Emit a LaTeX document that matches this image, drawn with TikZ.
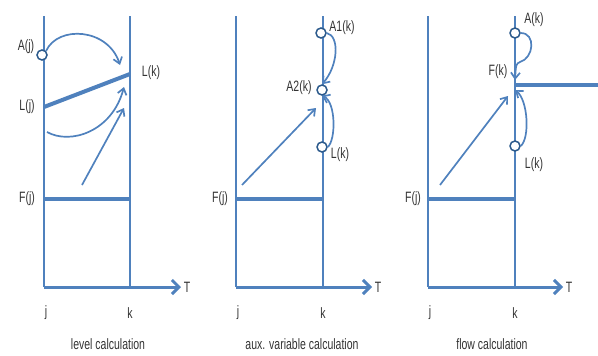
\documentclass[tikz,border=0pt]{standalone}
\usepackage{fontspec}
\setmainfont[FakeStretch=0.7]{Liberation Sans}
\usetikzlibrary{arrows.meta}
\definecolor{lblue}{HTML}{4F81BD}
\definecolor{dblue}{HTML}{2C5A8C}
\definecolor{txt}{HTML}{333333}
\tikzset{
  thinline/.style={draw=lblue, line width=2.6pt},
  thickline/.style={draw=lblue, line width=4pt},
  causal/.style={draw=lblue, line width=1.7pt, -{Straight Barb[length=6pt,width=9pt,line width=1.7pt]}},
  taxis/.style={draw=lblue, line width=3pt, -{Straight Barb[length=7pt,width=14pt,line width=3pt]}},
  var/.style={circle, draw=dblue, fill=white, line width=1.5pt, minimum size=10pt, inner sep=0pt},
  lab/.style={font=\fontsize{15}{15}\selectfont, text=txt, inner sep=0pt},
  captext/.style={font=\fontsize{15}{15}\selectfont, text=txt, inner sep=0pt},
}
\begin{document}
\begin{tikzpicture}[x=1pt,y=-1pt]
\useasboundingbox (0,0) rectangle (598,356);
% ---------- panel 1: level calculation
\coordinate (p1jt) at (44,16); \coordinate (p1jb) at (44,287);
\coordinate (p1kt) at (130,16); \coordinate (p1kb) at (130,287);
\coordinate (p1te) at (181,287);
\draw[thinline] (p1jt) -- (p1jb);
\draw[thinline] (p1kt) -- (p1kb);
\draw[taxis] (p1jb) -- (p1te);
\node[lab] (p1T) at (187,287) {T};
\node[lab] (p1j) at (46,313) {j};
\node[lab] (p1k) at (130,313) {k};
\node[captext] (p1cap) at (108,344) {level calculation};
\coordinate (p1Lj) at (44,107); \coordinate (p1Lk) at (130,74);
\draw[thickline] (p1Lj) -- (p1Lk);
\node[lab] (p1Ljl) at (27,107) {L(j)};
\node[lab] (p1Lkl) at (151,73) {L(k)};
\node[var] (p1Aj) at (42,55) {};
\node[lab] (p1Ajl) at (26,47) {A(j)};
\coordinate (p1Fj) at (44,199); \coordinate (p1Fk) at (130,199);
\draw[thickline] (p1Fj) -- (p1Fk);
\node[lab] (p1Fjl) at (27,199) {F(j)};
\coordinate (p1a1) at (120,65);
\draw[causal] (p1Aj.north east) .. controls (58,25) and (108,28) .. (p1a1);
\coordinate (p1s2) at (47,132); \coordinate (p1a2) at (124,87);
\draw[causal] (p1s2) .. controls (70,145) and (112,132) .. (p1a2);
\coordinate (p1s3) at (82,185); \coordinate (p1a3) at (124,108);
\draw[causal] (p1s3) -- (p1a3);
% ---------- panel 2: aux. variable calculation
\coordinate (p2jt) at (236,16); \coordinate (p2jb) at (236,287);
\coordinate (p2kt) at (323,16); \coordinate (p2kb) at (323,287);
\coordinate (p2te) at (372,287);
\draw[thinline] (p2jt) -- (p2jb);
\draw[thinline] (p2kt) -- (p2kb);
\draw[taxis] (p2jb) -- (p2te);
\node[lab] (p2T) at (378,287) {T};
\node[lab] (p2j) at (238,313) {j};
\node[lab] (p2k) at (323,313) {k};
\node[captext] (p2cap) at (302,344) {aux. variable calculation};
\node[var] (p2A1) at (321,33) {};
\node[lab] (p2A1l) at (342,28) {A1(k)};
\node[var] (p2A2) at (322,90) {};
\node[lab] (p2A2l) at (299,88) {A2(k)};
\node[var] (p2L) at (322,147) {};
\node[lab] (p2Ll) at (340,155) {L(k)};
\coordinate (p2Fj) at (236,199); \coordinate (p2Fk) at (323,199);
\draw[thickline] (p2Fj) -- (p2Fk);
\node[lab] (p2Fjl) at (220,199) {F(j)};
\draw[causal] (p2A1.east) .. controls (340,36) and (338,66) .. (p2A2.north);
\draw[causal] (p2L.east) .. controls (336,140) and (336,102) .. (p2A2.south);
\coordinate (p2s3) at (242,185); \coordinate (p2a3) at (316,108);
\draw[causal] (p2s3) -- (p2a3);
% ---------- panel 3: flow calculation
\coordinate (p3jt) at (428,16); \coordinate (p3jb) at (428,287);
\coordinate (p3kt) at (515,16); \coordinate (p3kb) at (515,287);
\coordinate (p3te) at (563,287);
\draw[thinline] (p3jt) -- (p3jb);
\draw[thinline] (p3kt) -- (p3kb);
\draw[taxis] (p3jb) -- (p3te);
\node[lab] (p3T) at (569,287) {T};
\node[lab] (p3j) at (430,313) {j};
\node[lab] (p3k) at (515,313) {k};
\node[captext] (p3cap) at (492,344) {flow calculation};
\node[var] (p3A) at (515,33) {};
\node[lab] (p3Al) at (534,20) {A(k)};
\node[var] (p3L) at (515,146) {};
\node[lab] (p3Ll) at (534,165) {L(k)};
\node[lab] (p3Fkl) at (498,72) {F(k)};
\coordinate (p3Fk) at (515,85); \coordinate (p3Fe) at (598,85);
\draw[thickline] (p3Fk) -- (p3Fe);
\coordinate (p3Fj) at (428,199); \coordinate (p3Fjk) at (515,199);
\draw[thickline] (p3Fj) -- (p3Fjk);
\node[lab] (p3Fjl) at (413,199) {F(j)};
\coordinate (p3a1) at (515,80); \coordinate (p3a2) at (515,90);
\draw[causal] (p3A.east) .. controls (536,33) and (534,58) .. (520,62) .. controls (516,64) .. (p3a1);
\draw[causal] (p3L.east) .. controls (530,138) and (528,100) .. (p3a2);
\coordinate (p3s3) at (440,185); \coordinate (p3a3) at (508,96);
\draw[causal] (p3s3) -- (p3a3);
\end{tikzpicture}
\end{document}
